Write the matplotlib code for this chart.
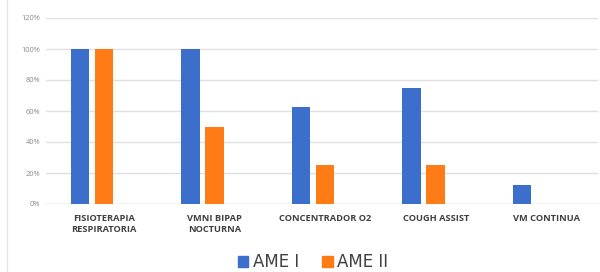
import matplotlib
matplotlib.use("Agg")
import matplotlib.pyplot as plt
import numpy as np
from matplotlib.patches import Patch

categories = ["FISIOTERAPIA\nRESPIRATORIA", "VMNI BIPAP\nNOCTURNA", "CONCENTRADOR O2",
              "COUGH ASSIST", "VM CONTINUA"]
ame1 = [100, 100, 62.5, 75, 12.5]
ame2 = [100, 50, 25, 25, 0]
yticks = [0, 20, 40, 60, 80, 100, 120]
series_names = ["AME I", "AME II"]

blue = "#3B6FCB"
orange = "#FF7B15"

plt.rcParams['font.family'] = ['Open Sans', 'DejaVu Sans']

fig = plt.figure(figsize=(6.0, 2.72), dpi=100)
ax_left, ax_right = 46, 598
ax = fig.add_axes([ax_left/600, 1-204/272, (ax_right-ax_left)/600, (204-18)/272])

x = np.arange(len(categories))
w = 0.17
off = 0.109
ax.bar(x - off, ame1, width=w, color=blue, zorder=3)
ax.bar(x + off, [v if v > 0 else np.nan for v in ame2], width=w, color=orange, zorder=3)

# group 0 centred at 92 px, spacing 110.5 px
c0, sp = 92.0, 110.5
ax.set_xlim((ax_left - c0)/sp, (ax_right - c0)/sp)
ax.set_ylim(0, 120)
ax.set_yticks(yticks)
ax.set_yticklabels([f"{v}%" for v in yticks], fontsize=5.3, color="#8a8a8a")
ax.yaxis.grid(True, color="#e0e0e0", linewidth=1.0, zorder=0)
ax.tick_params(axis='y', length=0, pad=4)
ax.set_xticks(x + 0.11)
ax.set_xticklabels(categories, fontsize=6.7, fontweight='bold', color="#404040",
                   linespacing=1.35, va='top')
ax.tick_params(axis='x', length=0, pad=7)
for s in ax.spines.values():
    s.set_visible(False)
ax.axhline(0, color="#d9d9d9", linewidth=1.0, zorder=2)

# chart border line on left
fig.add_artist(plt.Line2D([7/600, 7/600], [0, 1], color="#e6e6e6", linewidth=1.0,
                          transform=fig.transFigure))

handles = [Patch(color=blue), Patch(color=orange)]
fig.legend(handles, series_names, loc='center', bbox_to_anchor=(313/600, 1-262/272),
           ncol=2, frameon=False, prop={'family': 'DejaVu Sans', 'size': 12},
           handlelength=0.65, handleheight=0.65,
           handletextpad=0.25, columnspacing=1.4, labelcolor="#404040")

fig.savefig("out.png", dpi=100)
